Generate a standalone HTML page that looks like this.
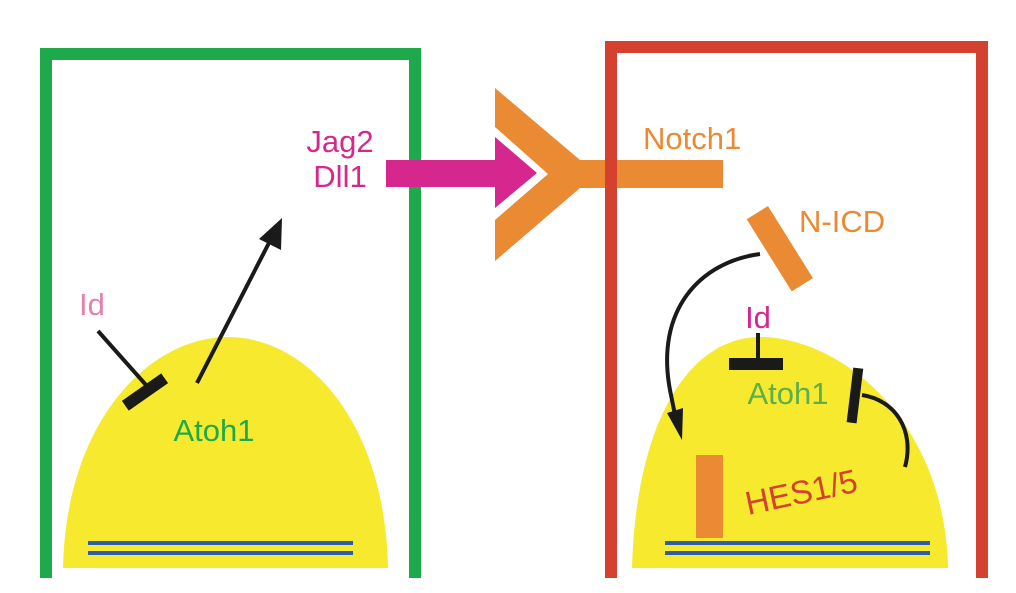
<!DOCTYPE html>
<html><head><meta charset="utf-8"><style>html,body{margin:0;padding:0;background:#fff}svg{display:block}</style></head>
<body>
<svg width="1016" height="593" viewBox="0 0 1016 593" xmlns="http://www.w3.org/2000/svg" font-family="Liberation Sans, sans-serif">
<!-- left cell -->
<path d="M46,578 V54 H415 V578" fill="none" stroke="#1eaa4b" stroke-width="12"/>
<path d="M63,568 C66,420 150,337 228,337 C306,337 385,420 388,568 Z" fill="#f7ea2e"/>
<rect x="88" y="541" width="265" height="4" fill="#2f5ea8"/>
<rect x="88" y="551" width="265" height="4" fill="#2f5ea8"/>
<line x1="98" y1="331" x2="146" y2="385" stroke="#1a1a1a" stroke-width="4"/>
<rect x="121" y="386" width="48" height="12" fill="#1a1a1a" transform="rotate(-35 145 392)"/>
<line x1="197" y1="383" x2="272" y2="237" stroke="#1a1a1a" stroke-width="4"/>
<polygon points="282,218 281,250 259,239" fill="#1a1a1a"/>
<text x="79" y="315" font-size="31" fill="#e77fb0">Id</text>
<text x="214" y="441" font-size="31" fill="#1eaa4b" text-anchor="middle">Atoh1</text>
<text x="340" y="152" font-size="31" fill="#d6278f" text-anchor="middle">Jag2</text>
<text x="340" y="187" font-size="31" fill="#d6278f" text-anchor="middle">Dll1</text>
<!-- right cell -->
<path d="M611,578 V47 H982 V578" fill="none" stroke="#d5412f" stroke-width="12"/>
<path d="M632,568 C636,420 690,337 760,337 C840,337 945,420 948,568 Z" fill="#f7ea2e"/>
<rect x="665" y="541" width="265" height="4" fill="#2f5ea8"/>
<rect x="665" y="551" width="265" height="4" fill="#2f5ea8"/>
<rect x="696" y="455" width="27" height="83" fill="#ea8a33"/>
<text x="0" y="0" font-size="33" fill="#d5412f" transform="translate(748,515) rotate(-12)">HES1/5</text>
<!-- magenta arrow -->
<polygon points="386,160 495,160 495,137 537,173 495,208 495,187 386,187" fill="#d6278f"/>
<!-- notch receptor -->
<polygon points="495,88 580,160 723,160 723,188 580,188 495,261 495,220 548,174 495,127" fill="#ea8a33"/>
<line x1="611" y1="47" x2="611" y2="578" stroke="#d5412f" stroke-width="12"/>
<text x="643" y="149" font-size="31" fill="#ea8a33">Notch1</text>
<!-- N-ICD -->
<rect x="738" y="236" width="85" height="25" fill="#ea8a33" transform="rotate(58 780 248)"/>
<text x="799" y="232" font-size="31" fill="#ea8a33">N-ICD</text>
<path d="M760,254 C700,262 655,310 670,390 L676,420" fill="none" stroke="#1a1a1a" stroke-width="4"/>
<polygon points="667,413 683,408 682,440" fill="#1a1a1a"/>
<text x="758" y="328" font-size="31" fill="#d6278f" text-anchor="middle">Id</text>
<line x1="758" y1="333" x2="758" y2="362" stroke="#1a1a1a" stroke-width="4"/>
<rect x="729" y="358" width="54" height="12" fill="#1a1a1a"/>
<text x="788" y="404" font-size="31" fill="#5dae4d" text-anchor="middle">Atoh1</text>
<rect x="850" y="368" width="10" height="55" fill="#1a1a1a" transform="rotate(7 855 395)"/>
<path d="M905,467 C915,430 895,400 862,395" fill="none" stroke="#1a1a1a" stroke-width="4"/>
</svg>
</body></html>
